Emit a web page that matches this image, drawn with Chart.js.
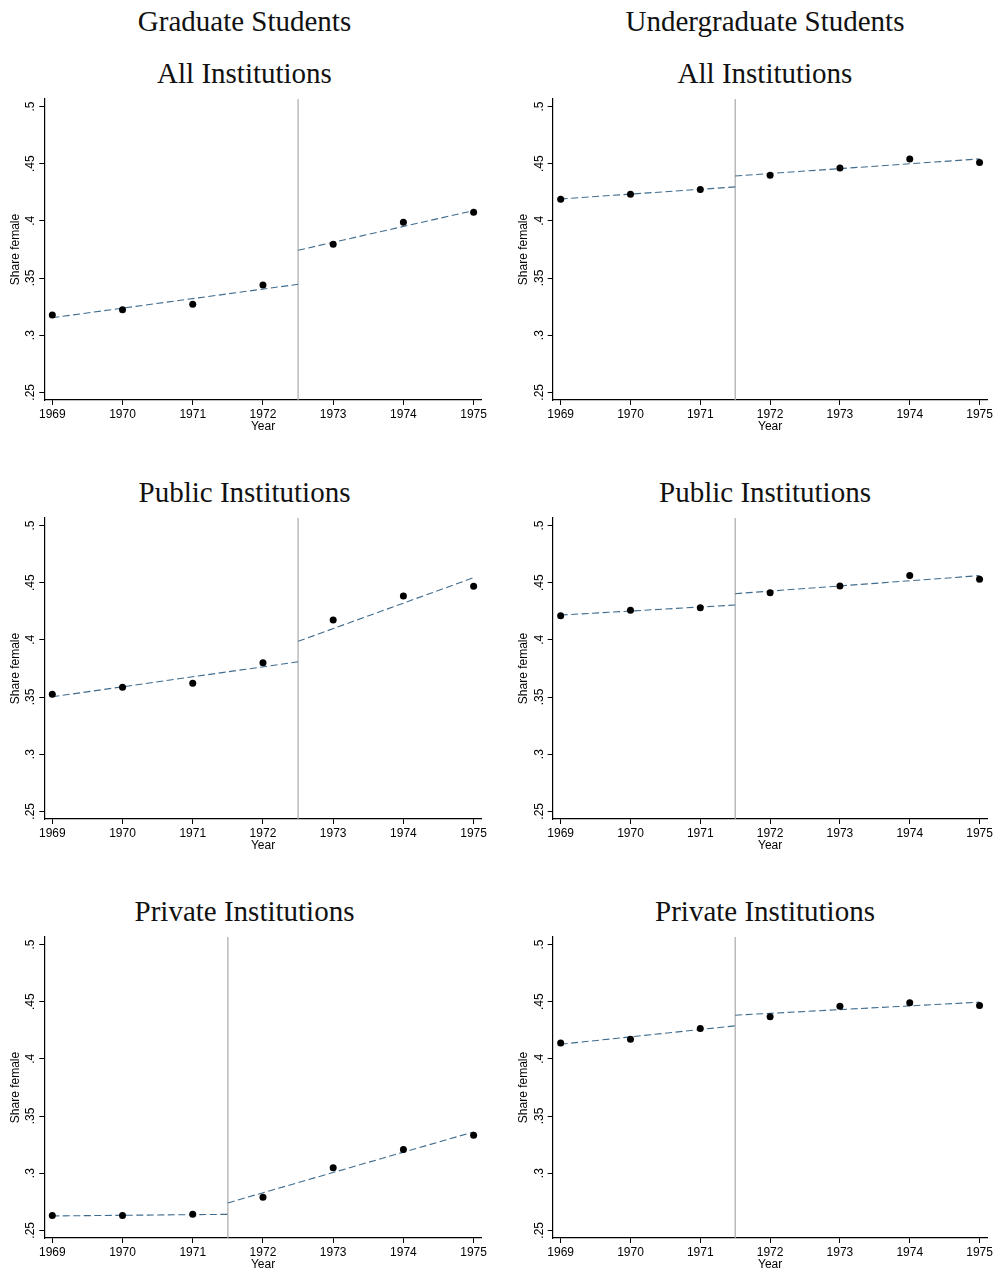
<!DOCTYPE html>
<html>
<head>
<meta charset="utf-8">
<script src="https://cdn.jsdelivr.net/npm/chart.js@4.4.1/dist/chart.umd.min.js"></script>
<style>
  html, body { margin: 0; padding: 0; background: #ffffff; }
  #page { position: relative; width: 995px; height: 1270px; background: #ffffff; overflow: hidden; }
  .ttl { position: absolute; font-family: "Liberation Serif", "DejaVu Serif", serif; font-size: 29px; line-height: 29px;
         color: #111; white-space: nowrap; transform: translateX(-50%); }
  .box { position: absolute; }
</style>
</head>
<body>
<div id="page"></div>
<script>
// ---------- data ----------
const years = [1969, 1970, 1971, 1972, 1973, 1974, 1975];
const yTickValues = [0.25, 0.30, 0.35, 0.40, 0.45, 0.50];
const yTickLabels = ['.25', '.3', '.35', '.4', '.45', '.5'];
const columnTitles = ['Graduate Students', 'Undergraduate Students'];
const panelTitles = ['All Institutions', 'Public Institutions', 'Private Institutions'];
const xTitle = 'Year';
const yTitle = 'Share female';

const gradAll      = [0.3177, 0.3223, 0.3270, 0.3439, 0.3795, 0.3988, 0.4075];
const gradPublic   = [0.3525, 0.3586, 0.3621, 0.3800, 0.4173, 0.4384, 0.4468];
const gradPrivate  = [0.2629, 0.2629, 0.2640, 0.2790, 0.3047, 0.3208, 0.3331];
const undAll       = [0.4189, 0.4233, 0.4274, 0.4399, 0.4463, 0.4542, 0.4510];
const undPublic    = [0.4211, 0.4258, 0.4282, 0.4413, 0.4471, 0.4562, 0.4530];
const undPrivate   = [0.4139, 0.4172, 0.4265, 0.4368, 0.4461, 0.4491, 0.4467];

// fitted lines: [pre start (1969), pre end (cutoff), post start (cutoff), post end (1975)]
const gradAllFit     = [0.3153, 0.3445, 0.3743, 0.4090];
const gradPublicFit  = [0.3502, 0.3808, 0.3987, 0.4544];
const gradPrivateFit = [0.2626, 0.2640, 0.2740, 0.3361];
const undAllFit      = [0.4192, 0.4297, 0.4393, 0.4542];
const undPublicFit   = [0.4217, 0.4305, 0.4404, 0.4562];
const undPrivateFit  = [0.4128, 0.4289, 0.4382, 0.4496];

const gradCutoffs = [1972.5, 1972.5, 1971.5];
const undCutoffs  = [1971.5, 1971.5, 1971.5];

const xMin = 1968.886, xMax = 1975.115;
const yMin = 0.2433, yMax = 0.5066;

// ---------- layout ----------
const page = document.getElementById('page');
const plotTops = [99.3, 518.3, 937.3];
const plotH = 301;
const cols = [
  { left: 0,   width: 495, axisW: 44.3, padR: 13.3, yTitlePad: 8,  titleX: 244.5 },
  { left: 505, width: 490, axisW: 47.7, padR: 5,    yTitlePad: 11, titleX: 765 }
];
const xAxisH = 34;
const padTop = 10;

function addTitle(text, cx, top) {
  const d = document.createElement('div');
  d.className = 'ttl';
  d.textContent = text;
  d.style.left = cx + 'px';
  d.style.top = top + 'px';
  page.appendChild(d);
}

addTitle(columnTitles[0], cols[0].titleX, 7.4);
addTitle(columnTitles[1], cols[1].titleX, 7.4);
plotTops.forEach((t, i) => {
  addTitle(panelTitles[i], cols[0].titleX, t - 40.6);
  addTitle(panelTitles[i], cols[1].titleX, t - 40.6);
});

const tickFont = { family: 'Liberation Sans, Arial, sans-serif', size: 12 };

function makePanel(col, row, values, fit, cutoff) {
  const c = cols[col];
  const box = document.createElement('div');
  box.className = 'box';
  const h = padTop + plotH + xAxisH;
  box.style.left = c.left + 'px';
  box.style.top = (plotTops[row] - padTop) + 'px';
  box.style.width = c.width + 'px';
  box.style.height = h + 'px';
  const cv = document.createElement('canvas');
  box.appendChild(cv);
  page.appendChild(box);

  const points = years.map((yr, i) => ({ x: yr, y: values[i] }));
  const pre = [{ x: years[0], y: fit[0] }, { x: cutoff, y: fit[1] }];
  const post = [{ x: cutoff, y: fit[2] }, { x: years[years.length - 1], y: fit[3] }];
  const vline = [{ x: cutoff, y: yMin }, { x: cutoff, y: yMax }];

  new Chart(cv, {
    type: 'scatter',
    data: {
      datasets: [
        { type: 'line', data: vline, borderColor: '#a9a9a9', borderWidth: 1.2, pointRadius: 0, fill: false, clip: false, order: 3 },
        { type: 'line', data: pre, borderColor: '#3f6c8e', borderWidth: 1.1, borderDash: [7, 3.5], pointRadius: 0, fill: false, order: 2 },
        { type: 'line', data: post, borderColor: '#3f6c8e', borderWidth: 1.1, borderDash: [7, 3.5], pointRadius: 0, fill: false, order: 2 },
        { data: points, backgroundColor: '#000000', borderColor: '#000000', pointRadius: 3.5, borderWidth: 0, order: 1 }
      ]
    },
    options: {
      responsive: true,
      maintainAspectRatio: false,
      animation: false,
      devicePixelRatio: 1,
      layout: { padding: { top: padTop, right: c.padR, bottom: 0, left: 0 } },
      plugins: { legend: { display: false }, tooltip: { enabled: false }, title: { display: false } },
      scales: {
        x: {
          type: 'linear',
          min: xMin, max: xMax,
          afterBuildTicks: (s) => { s.ticks = years.map(v => ({ value: v })); },
          afterFit: (s) => { s.height = xAxisH; },
          ticks: { font: tickFont, color: '#000', padding: 2, maxRotation: 0, autoSkip: false,
                   callback: (v) => String(v) },
          grid: { display: true, drawOnChartArea: false, drawTicks: true, tickLength: 5, color: '#000', tickWidth: 1 },
          border: { display: true, color: '#000', width: 1.2 },
          title: { display: true, text: xTitle, font: tickFont, color: '#000', padding: { top: 0, bottom: 0 } }
        },
        y: {
          type: 'linear',
          min: yMin, max: yMax,
          afterBuildTicks: (s) => { s.ticks = yTickValues.map(v => ({ value: v })); },
          afterFit: (s) => { s.width = c.axisW; },
          ticks: { font: tickFont, color: '#000', padding: 0, minRotation: 90, maxRotation: 90, crossAlign: 'center', autoSkip: false,
                   callback: (v) => { const k = yTickValues.findIndex(t => Math.abs(t - v) < 1e-6); return k >= 0 ? yTickLabels[k] : ''; } },
          grid: { display: true, drawOnChartArea: false, drawTicks: true, tickLength: 5, color: '#000', tickWidth: 1 },
          border: { display: true, color: '#000', width: 1.2 },
          title: { display: true, text: yTitle, font: tickFont, color: '#000', padding: { top: c.yTitlePad, bottom: 0 } }
        }
      }
    }
  });
}

const gradSets = [[gradAll, gradAllFit], [gradPublic, gradPublicFit], [gradPrivate, gradPrivateFit]];
const undSets  = [[undAll, undAllFit], [undPublic, undPublicFit], [undPrivate, undPrivateFit]];
gradSets.forEach((s, r) => makePanel(0, r, s[0], s[1], gradCutoffs[r]));
undSets.forEach((s, r) => makePanel(1, r, s[0], s[1], undCutoffs[r]));
</script>
</body>
</html>
